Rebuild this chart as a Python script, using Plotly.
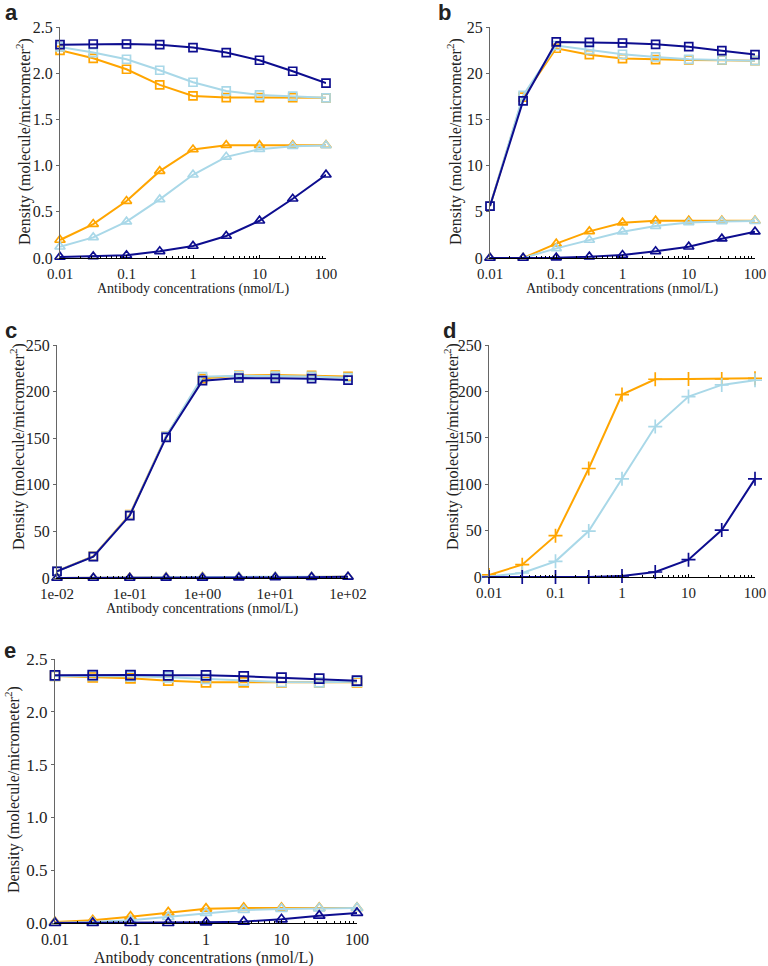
import plotly.graph_objects as go

conc = [0.01, 0.0316, 0.1, 0.316, 1, 3.16, 10, 31.6, 100]

# panel a
a_sq_orange = [2.248, 2.161, 2.043, 1.873, 1.754, 1.736, 1.736, 1.736, 1.733]
a_sq_light = [2.284, 2.223, 2.151, 2.032, 1.902, 1.808, 1.765, 1.751, 1.733]
a_sq_navy = [2.309, 2.316, 2.316, 2.309, 2.277, 2.223, 2.140, 2.021, 1.892]
a_tri_orange = [0.195, 0.367, 0.616, 0.940, 1.174, 1.221, 1.221, 1.221, 1.221]
a_tri_light = [0.122, 0.223, 0.393, 0.634, 0.901, 1.095, 1.178, 1.210, 1.218]
a_tri_navy = [0.011, 0.018, 0.029, 0.072, 0.130, 0.238, 0.403, 0.641, 0.901]

# panel b
b_sq_orange = [5.6, 17.4, 22.7, 22.0, 21.58, 21.47, 21.43, 21.4, 21.36]
b_sq_light = [5.6, 17.6, 23.0, 22.55, 22.05, 21.76, 21.5, 21.43, 21.36]
b_sq_navy = [5.62, 17.0, 23.38, 23.34, 23.27, 23.13, 22.87, 22.44, 22.01]
b_tri_orange = [0, 0, 1.55, 2.88, 3.82, 4.03, 4.03, 4.03, 4.03]
b_tri_light = [0, 0, 1.04, 1.95, 2.85, 3.46, 3.85, 3.96, 4.0]
b_tri_navy = [0, 0, 0.04, 0.14, 0.32, 0.72, 1.22, 2.09, 2.85]

# panel c
c_sq_orange = [7.5, 23.5, 68, 152, 214, 217.4, 217.8, 217.4, 216.3]
c_sq_light = [7.3, 23.2, 67.5, 152, 216, 217, 216.7, 216.3, 214.9]
c_sq_navy = [7.2, 22.9, 67.0, 150.8, 211.7, 214.6, 214.2, 213.9, 212.4]
c_tri_orange = [0.05, 0.2, 0.5, 0.9, 1.2, 1.3, 1.3, 1.3, 1.3]
c_tri_light = [0.02, 0.08, 0.25, 0.6, 1.0, 1.2, 1.3, 1.3, 1.3]
c_tri_navy = [0, 0, 0, 0.1, 0.2, 0.4, 0.6, 0.9, 1.3]

# panel d
d_orange = [2.2, 13.3, 44.5, 116.9, 196.6, 213.1, 213.4, 213.4, 214.1]
d_light = [0.4, 4.3, 16.9, 49.5, 105.8, 162.1, 194.4, 207.0, 212.0]
d_navy = [0, 0, 0, 0, 1.1, 5.4, 18.7, 50.6, 105.8]

# panel e
e_sq_orange = [2.339, 2.326, 2.317, 2.295, 2.279, 2.279, 2.279, 2.279, 2.279]
e_sq_light = [2.339, 2.339, 2.336, 2.326, 2.311, 2.295, 2.282, 2.279, 2.285]
e_sq_navy = [2.345, 2.348, 2.348, 2.345, 2.345, 2.336, 2.323, 2.314, 2.295]
e_tri_orange = [0.009, 0.025, 0.06, 0.10, 0.136, 0.142, 0.142, 0.142, 0.142]
e_tri_light = [0.003, 0.009, 0.025, 0.057, 0.095, 0.123, 0.133, 0.139, 0.142]
e_tri_navy = [0, 0, 0, 0, 0.006, 0.013, 0.035, 0.069, 0.095]

dec_vals = [0.01, 0.1, 1, 10, 100]
dec_text = ["0.01", "0.1", "1", "10", "100"]
dec_text_c = ["1e-02", "1e-01", "1e+00", "1e+01", "1e+02"]

ORANGE = "#ffa500"
LIGHT = "#a9d8e8"
NAVY = "#0d0d8f"
W, H = 768, 966
SERIF = "Liberation Serif"

fig = go.Figure()


def fx(p):
    return p / W


def fy(p):
    return 1 - p / H


def line(n, y, color, symbol, size=8):
    fig.add_trace(go.Scatter(
        x=conc, y=y, mode="lines+markers",
        line=dict(color=color, width=2),
        marker=dict(symbol=symbol, size=size, color=color,
                    line=dict(color=color, width=1.7)),
        cliponaxis=False, showlegend=False,
        xaxis="x" + ("" if n == 1 else str(n)),
        yaxis="y" + ("" if n == 1 else str(n)),
    ))


def axes(n, px, py, yrange, dtick, yfmt, ticktext, fs=15):
    sfx = "" if n == 1 else str(n)
    fig.layout["xaxis" + sfx] = dict(
        type="log", range=[-2, 2], domain=[fx(px[0]), fx(px[1])],
        anchor="y" + sfx, showgrid=False, zeroline=False, automargin=False,
        showline=True, linecolor="black", linewidth=1.2,
        ticks="inside", ticklen=3, tickcolor="black",
        tickvals=dec_vals, ticktext=ticktext, ticklabelstandoff=2,
        tickfont=dict(family=SERIF, size=fs, color="#222"),
        minor=dict(ticks="inside", ticklen=2, dtick="D1", tickcolor="black", showgrid=False),
    )
    fig.layout["yaxis" + sfx] = dict(
        range=yrange, domain=[fy(py[1]), fy(py[0])],
        anchor="x" + sfx, showgrid=False, zeroline=False, automargin=False,
        showline=True, linecolor="#666", linewidth=1.2,
        ticks="outside", ticklen=3, tickcolor="#666",
        dtick=dtick, tickformat=yfmt,
        tickfont=dict(family=SERIF, size=fs + 1, color="#222"),
    )


def note(text, x, y, size, family=SERIF, angle=0):
    fig.add_annotation(text=text, x=fx(x), y=fy(y), xref="paper", yref="paper",
                       xanchor="center", yanchor="middle", textangle=angle,
                       showarrow=False,
                       font=dict(family=family, size=size, color="#222"))


def ytitle(x, yc, size=16):
    note("Density (molecule/micrometer<sup>2</sup>)", x, yc, size, angle=-90)


def xtitle(xc, y, size=14):
    note("Antibody concentrations (nmol/L)", xc, y, size)


def letter(t, x, y):
    note("<b>" + t + "</b>", x, y, 22, family="Liberation Sans")


# a
axes(1, (60, 326), (27, 258), [0, 2.5], 0.5, ".1f", dec_text)
for y, c in [(a_sq_orange, ORANGE), (a_sq_light, LIGHT), (a_sq_navy, NAVY)]:
    line(1, y, c, "square-open")
for y, c in [(a_tri_orange, ORANGE), (a_tri_light, LIGHT), (a_tri_navy, NAVY)]:
    line(1, y, c, "triangle-up-open", 9)
ytitle(23, 142)
xtitle(193, 289)
letter("a", 11, 12)

# b
axes(2, (490, 755), (27, 258), [0, 25], 5, "d", dec_text)
for y, c in [(b_sq_orange, ORANGE), (b_sq_light, LIGHT), (b_sq_navy, NAVY)]:
    line(2, y, c, "square-open")
for y, c in [(b_tri_orange, ORANGE), (b_tri_light, LIGHT), (b_tri_navy, NAVY)]:
    line(2, y, c, "triangle-up-open", 9)
ytitle(454, 142)
xtitle(622, 289)
letter("b", 444, 12)

# c
axes(3, (57, 348), (345, 578), [0, 250], 50, "d", dec_text_c)
for y, c in [(c_sq_orange, ORANGE), (c_sq_light, LIGHT), (c_sq_navy, NAVY)]:
    line(3, y, c, "square-open")
for y, c in [(c_tri_orange, ORANGE), (c_tri_light, LIGHT), (c_tri_navy, NAVY)]:
    line(3, y, c, "triangle-up-open", 9)
ytitle(18, 447)
xtitle(202, 609)
letter("c", 11, 330)

# d
axes(4, (489, 755), (345, 577), [0, 250], 50, "d", dec_text)
for y, c in [(d_orange, ORANGE), (d_light, LIGHT), (d_navy, NAVY)]:
    line(4, y, c, "cross-thin", 10)
ytitle(452, 447)
letter("d", 449, 330)

# e
axes(5, (55, 357), (659, 923), [0, 2.5], 0.5, ".1f", dec_text, fs=16)
for y, c in [(e_sq_orange, ORANGE), (e_sq_light, LIGHT), (e_sq_navy, NAVY)]:
    line(5, y, c, "square-open", 9)
for y, c in [(e_tri_orange, ORANGE), (e_tri_light, LIGHT), (e_tri_navy, NAVY)]:
    line(5, y, c, "triangle-up-open", 10)
ytitle(12, 790)
xtitle(204, 958, 16)
letter("e", 10, 650)

fig.update_layout(width=W, height=H, margin=dict(l=0, r=0, t=0, b=0),
                  paper_bgcolor="white", plot_bgcolor="white")
# drop the default page margin so the figure sits at the window's top-left
fig.write_html("out.html", config={"displayModeBar": False},
               post_script="document.body.style.margin='0';")
